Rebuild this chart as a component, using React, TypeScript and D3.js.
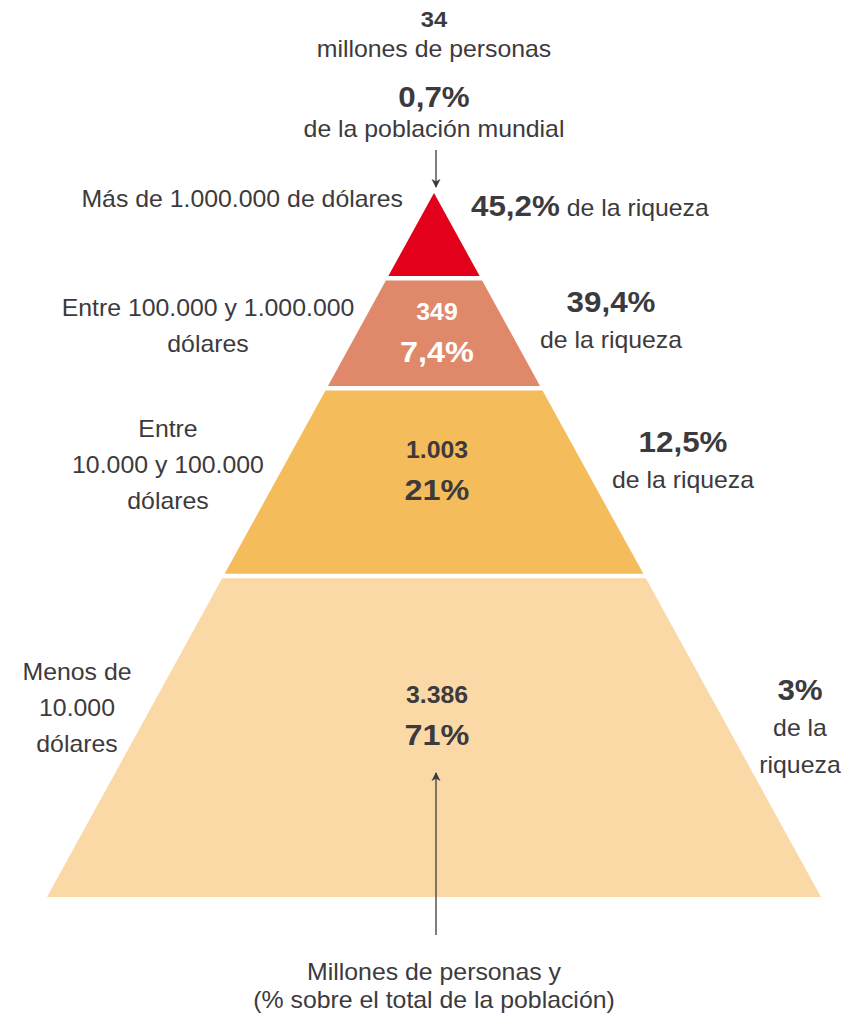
import React from 'react';
import * as d3 from 'd3';

// data
const levelLabels = [
  ['Más de 1.000.000 de dólares'],
  ['Entre 100.000 y 1.000.000', 'dólares'],
  ['Entre', '10.000 y 100.000', 'dólares'],
  ['Menos de', '10.000', 'dólares'],
];
const population = [34, 349, 1003, 3386]; // millones de personas
const populationShare = [0.7, 7.4, 21, 71]; // % población mundial
const wealthShare = [45.2, 39.4, 12.5, 3]; // % de la riqueza
// schematic depth of the bottom of each layer (0 = apex, 1 = base)
const levelDepth = [0.118, 0.274, 0.541, 1];
const levelColors = ['#e2001a', '#e0896a', '#f5bc5c', '#fad9a6'];

const W = 851;
const H = 1016;
const cx = 434;
const ink = '#3d3a3d';
const font = '"Liberation Sans", Arial, sans-serif';

const es = d3.formatLocale({ decimal: ',', thousands: '.', grouping: [3], currency: ['', '€'] });
const fmtInt = es.format(',');
const fmtPct = (v: number) => (v % 1 ? es.format(',.1f')(v) : es.format('d')(v)) + '%';

const y = d3.scaleLinear().domain([0, 1]).range([193, 897]);
const half = d3.scaleLinear().domain([0, 1]).range([0, 387]);
const gap = 4.5;

function Txt({ x, y, size, bold, fill = ink, anchor = 'middle', children }: any) {
  return (
    <text
      transform={`translate(${x},${y}) scale(1.08,1)`}
      textAnchor={anchor}
      fontFamily={font}
      fontSize={size}
      fontWeight={bold ? 'bold' : 'normal'}
      fill={fill}
    >
      {children}
    </text>
  );
}

function Lines({ x, y0, lh, lines, size }: any) {
  return (
    <g>
      {lines.map((l: string, i: number) => (
        <Txt key={i} x={x} y={y0 + i * lh} size={size}>{l}</Txt>
      ))}
    </g>
  );
}

export default function App() {
  const bands = levelDepth.map((d, i) => {
    const d0 = i === 0 ? 0 : levelDepth[i - 1];
    const yTop = i === 0 ? y(0) : y(d0) + gap;
    const d0top = y.invert(yTop);
    const yBot = y(d);
    const pts: [number, number][] = [
      [cx - half(d0top), yTop],
      [cx + half(d0top), yTop],
      [cx + half(d), yBot],
      [cx - half(d), yBot],
    ];
    return { pts, yTop, yBot };
  });
  const line = d3.line();

  // label layout per level
  const leftPos = [
    { x: 237, y0: 207 },
    { x: 208, y0: 316 },
    { x: 168, y0: 437 },
    { x: 77, y0: 680 },
  ];
  const rightPos = [
    { x: 611, y0: 312 },
    { x: 683, y0: 452 },
    { x: 800, y0: 700 },
  ];
  const rightLines = [['de la riqueza'], ['de la riqueza'], ['de la', 'riqueza']];
  const insideY = [0, 320, 458, 703];
  const insideFill = ['#fff', '#fff', ink, ink];

  return (
    <svg width={W} height={H} style={{ position: 'absolute', left: 0, top: 0 }}>
      <defs>
        <marker id="ah" viewBox="0 0 10 10" refX="9" refY="5" markerWidth="7" markerHeight="7" orient="auto">
          <path d="M0,0 L10,5 L0,10 L3,5 Z" fill="#3d3a3d" />
        </marker>
      </defs>
      <rect width={W} height={H} fill="#fff" />
      {bands.map((b, i) => (
        <path key={i} d={line(b.pts) + 'Z'} fill={levelColors[i]} />
      ))}

      {/* top level callout */}
      <Txt x={cx} y={27} size={22} bold>{fmtInt(population[0])}</Txt>
      <Txt x={cx} y={57} size={23}>millones de personas</Txt>
      <Txt x={cx} y={107} size={29} bold>{fmtPct(populationShare[0])}</Txt>
      <Txt x={cx} y={137} size={23}>de la población mundial</Txt>
      <line x1={436} x2={436} y1={150} y2={187} stroke="#3d3a3d" strokeWidth={1.3} markerEnd="url(#ah)" />

      {/* left labels */}
      <Txt x={403} y={207} size={23} anchor="end">{levelLabels[0][0]}</Txt>
      {levelLabels.slice(1).map((ls, i) => (
        <Lines key={i} x={leftPos[i + 1].x} y0={leftPos[i + 1].y0} lh={36} lines={ls} size={23} />
      ))}

      {/* right labels */}
      <text
        transform={`translate(471,216) scale(1.08,1)`}
        fontFamily={font}
        fill={ink}
      >
        <tspan fontSize={29} fontWeight="bold">{fmtPct(wealthShare[0])}</tspan>
        <tspan fontSize={23}> de la riqueza</tspan>
      </text>
      {wealthShare.slice(1).map((v, i) => (
        <g key={i}>
          <Txt x={rightPos[i].x} y={rightPos[i].y0} size={29} bold>{fmtPct(v)}</Txt>
          <Lines x={rightPos[i].x} y0={rightPos[i].y0 + 36} lh={37} lines={rightLines[i]} size={23} />
        </g>
      ))}

      {/* inside labels */}
      {population.slice(1).map((p, i) => (
        <g key={i}>
          <Txt x={437} y={insideY[i + 1]} size={23} bold fill={insideFill[i + 1]}>{fmtInt(p)}</Txt>
          <Txt x={437} y={insideY[i + 1] + 42} size={30} bold fill={insideFill[i + 1]}>
            {fmtPct(populationShare[i + 1])}
          </Txt>
        </g>
      ))}

      {/* bottom note */}
      <line x1={436} x2={436} y1={935} y2={773} stroke="#3d3a3d" strokeWidth={1.3} markerEnd="url(#ah)" />
      <Txt x={cx} y={980} size={23}>Millones de personas y</Txt>
      <Txt x={cx} y={1008} size={23}>(% sobre el total de la población)</Txt>
    </svg>
  );
}
